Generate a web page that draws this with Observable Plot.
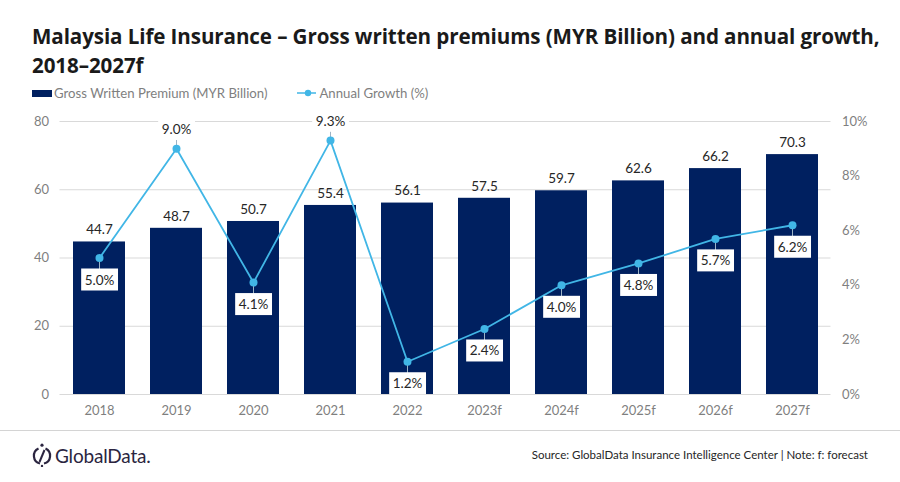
<!DOCTYPE html>
<html>
<head>
<meta charset="utf-8">
<script src="https://cdn.jsdelivr.net/npm/d3@7"></script>
<script src="https://cdn.jsdelivr.net/npm/@observablehq/plot@0.6"></script>
<style>
  html, body { margin: 0; padding: 0; background: #fff; }
  body { width: 900px; height: 482px; position: relative; overflow: hidden; font-family: "Open Sans", sans-serif; }
  #title { position: absolute; left: 32px; top: 22px; font-weight: 700; font-size: 20.6px; line-height: 29px; color: #1a1a1a; letter-spacing: -0.1px; }
  #legend { position: absolute; left: 32px; top: 85px; font-family: Lato, sans-serif; font-size: 13.2px; color: #7f7f7f; display: flex; align-items: center; }
  #legend .sw { display: inline-block; width: 20px; height: 7px; background: #002060; margin-right: 2px; }
  #legend .item { display: flex; align-items: center; }
  #chart { position: absolute; left: 0; top: 100px; }
  #footline { position: absolute; left: 0; top: 430px; width: 900px; height: 1px; background: #d4d4d4; }
  #logo { position: absolute; left: 32px; top: 443px; display: flex; align-items: center; }
  #logo span { font-family: Lato, sans-serif; font-size: 19px; color: #2b2540; margin-left: 3px; letter-spacing: -0.2px; }
  #source { position: absolute; right: 32px; top: 448px; font-family: Lato, sans-serif; font-size: 11.5px; color: #262626; }
</style>
</head>
<body>
<div id="title">Malaysia Life Insurance – Gross written premiums (MYR Billion) and annual growth,<br>2018–2027f</div>
<div id="legend">
  <div class="item"><span class="sw"></span>Gross Written Premium (MYR Billion)</div>
  <div class="item" style="margin-left:30px"><svg width="20" height="10"><line x1="0" y1="5" x2="19" y2="5" stroke="#41b6e6" stroke-width="1.5"/><circle cx="11" cy="5" r="3.2" fill="#41b6e6"/></svg><span style="margin-left:2px">Annual Growth (%)</span></div>
</div>
<div id="chart"></div>
<div id="footline"></div>
<div id="logo">
  <svg width="20" height="24" viewBox="0 0 20 24">
    <circle cx="10" cy="2.2" r="1.6" fill="#2b2540"/>
    <path d="M6.5 5.5 A8 8 0 0 0 8 20.5" fill="none" stroke="#2b2540" stroke-width="2.2"/>
    <path d="M13.5 5.5 A8 8 0 0 1 12 20.5" fill="none" stroke="#2b2540" stroke-width="2.2"/>
    <line x1="12.5" y1="7" x2="7.5" y2="19" stroke="#2b2540" stroke-width="2"/>
    <circle cx="10" cy="23" r="1.2" fill="#2b2540"/>
  </svg>
  <span>GlobalData.</span>
</div>
<div id="source">Source: GlobalData Insurance Intelligence Center | Note: f: forecast</div>
<script>
const years = ["2018","2019","2020","2021","2022","2023f","2024f","2025f","2026f","2027f"];
const premiums = [44.7, 48.7, 50.7, 55.4, 56.1, 57.5, 59.7, 62.6, 66.2, 70.3];
const growth = [5.0, 9.0, 4.1, 9.3, 1.2, 2.4, 4.0, 4.8, 5.7, 6.2];
const labelPos = ["below","above","below","above","below","below","below","below","below","below"];
const leftTicks = [0, 20, 40, 60, 80];
const rightTicks = [0, 2, 4, 6, 8, 10];

const K = 8; // 10% on the right axis aligns with 80 on the left axis
const data = years.map((y, i) => ({year: y, gwp: premiums[i], g: growth[i], pos: labelPos[i]}));
const labelY = d => d.g * K + (d.pos === "above" ? 5.6 : -6.5);

const chart = Plot.plot({
  width: 900,
  height: 320,
  marginTop: 21,
  marginBottom: 26,
  marginLeft: 59.5,
  marginRight: 69.5,
  style: {fontFamily: "Lato, sans-serif", fontSize: "13px", color: "#7f7f7f", background: "transparent"},
  x: {domain: years, paddingInner: 0.33, paddingOuter: 0.165, label: null},
  y: {domain: [0, 80], label: null},
  marks: [
    Plot.ruleY(leftTicks, {stroke: "#d9d9d9", strokeWidth: 1}),
    Plot.axisY(leftTicks, {anchor: "left", tickSize: 0, tickPadding: 11, label: null, fill: "#7f7f7f", fontSize: 13}),
    Plot.axisY(rightTicks.map(t => t * K), {anchor: "right", tickSize: 0, tickPadding: 11, label: null, tickFormat: d => (d / K) + "%", textAnchor: "start", fill: "#7f7f7f", fontSize: 13}),
    Plot.axisX({tickSize: 0, tickPadding: 11, label: null, fill: "#7f7f7f", fontSize: 13}),
    Plot.barY(data, {x: "year", y: "gwp", fill: "#002060"}),
    Plot.text(data, {x: "year", y: "gwp", text: d => d.gwp.toFixed(1), dy: -12, fill: "#262626", fontSize: 13.5}),
    Plot.line(data, {x: "year", y: d => d.g * K, stroke: "#41b6e6", strokeWidth: 1.8}),
    Plot.ruleX(data, {x: "year", y1: d => d.g * K, y2: labelY, stroke: "#9db4c6", strokeWidth: 1}),
    Plot.dot(data, {x: "year", y: d => d.g * K, r: 4, fill: "#41b6e6", stroke: "none"}),
    Plot.text(data, {x: "year", y: labelY, text: d => d.g.toFixed(1) + "%", fill: "#262626", fontSize: 13.5})
  ]
});
document.getElementById("chart").appendChild(chart);

// white label boxes behind the growth labels (the last text mark)
const textGroups = chart.querySelectorAll('g[aria-label="text"]');
const growthGroup = textGroups[textGroups.length - 1];
growthGroup.querySelectorAll("text").forEach(t => {
  const b = t.getBBox();
  const cy = b.y + b.height / 2;
  const r = document.createElementNS("http://www.w3.org/2000/svg", "rect");
  r.setAttribute("x", b.x - 3.5);
  r.setAttribute("y", cy - 11);
  r.setAttribute("width", b.width + 7);
  r.setAttribute("height", 22);
  r.setAttribute("fill", "#fff");
  const tr = t.getAttribute("transform");
  if (tr) r.setAttribute("transform", tr);
  t.parentNode.insertBefore(r, t);
});
</script>
</body>
</html>
